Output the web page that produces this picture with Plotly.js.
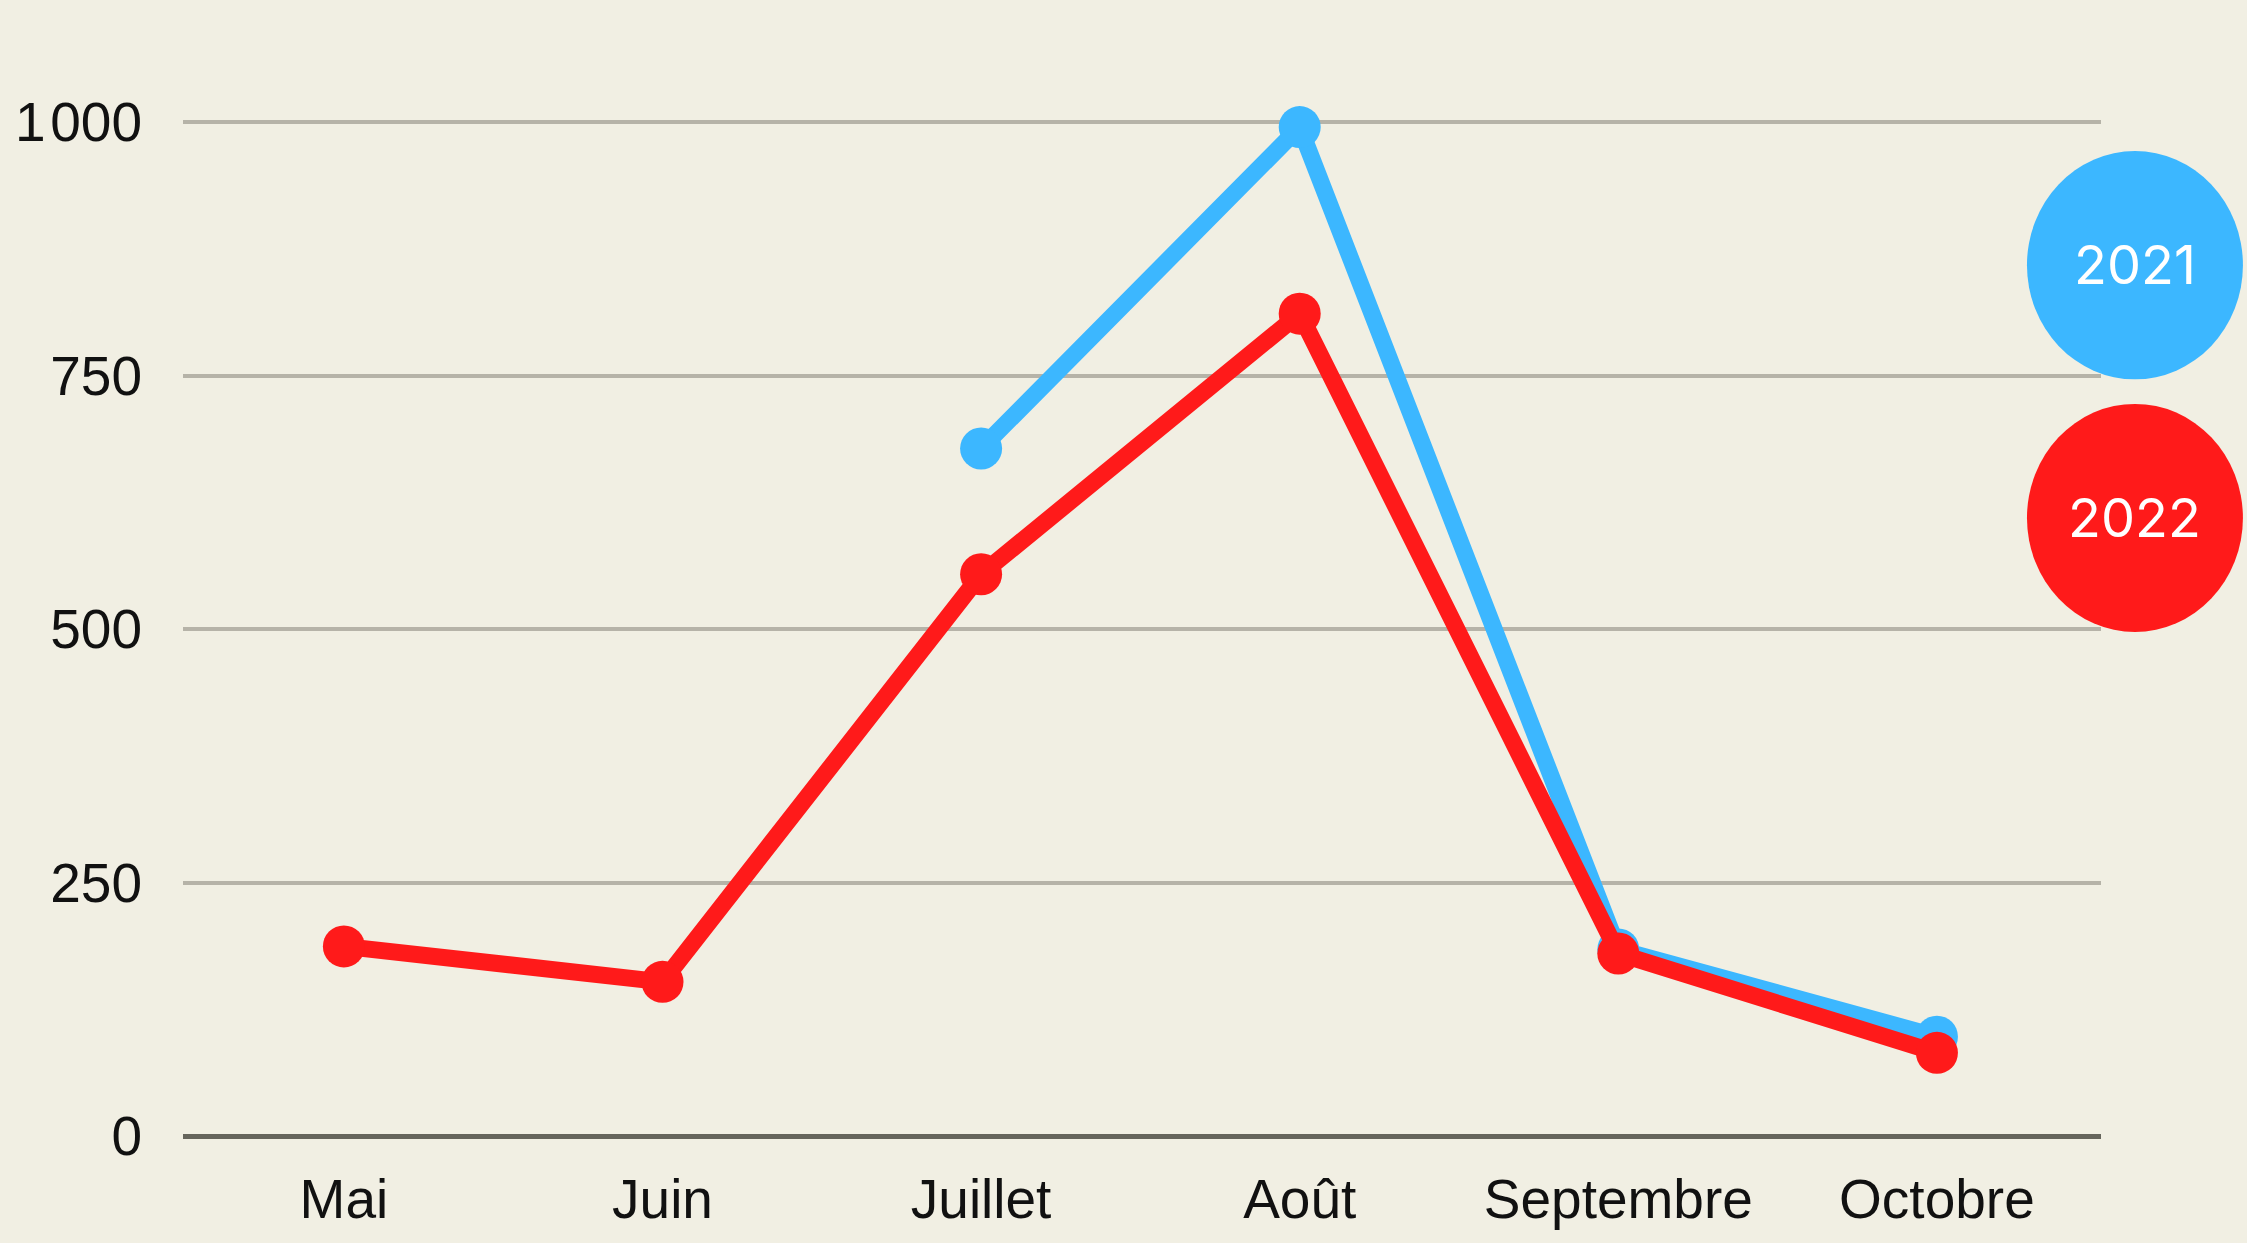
<!DOCTYPE html>
<html>
<head>
<meta charset="utf-8">
<script src="https://cdn.plot.ly/plotly-3.0.1.min.js"></script>
<style>
html,body{margin:0;padding:0;background:#F1EFE3;}
#chart{width:2247px;height:1243px;}
</style>
</head>
<body>
<div id="chart"></div>
<script>
const months = ["Mai", "Juin", "Juillet", "Août", "Septembre", "Octobre"];
const values2021 = [null, null, 678, 995, 184, 98];
const values2022 = [187, 152, 554, 811, 180, 82];
const seriesNames = ["2021", "2022"];
const yTickVals = [0, 250, 500, 750, 1000];
const yTickText = ["0", "250", "500", "750", "1\u200A000"];

const blue = "#3CB7FF";
const red = "#FF1A1A";
const tickFont = {family: "'Liberation Sans', Arial, sans-serif", size: 55, color: "#111111"};

const traces = [
  {
    x: months, y: values2021, name: seriesNames[0], type: "scatter", mode: "lines+markers",
    line: {color: blue, width: 17}, marker: {color: blue, size: 42}, connectgaps: false,
    cliponaxis: false, hoverinfo: "skip"
  },
  {
    x: months, y: values2022, name: seriesNames[1], type: "scatter", mode: "lines+markers",
    line: {color: red, width: 17}, marker: {color: red, size: 42},
    cliponaxis: false, hoverinfo: "skip"
  }
];

const layout = {
  width: 2247, height: 1243,
  paper_bgcolor: "#F1EFE3", plot_bgcolor: "#F1EFE3",
  margin: {l: 183, r: 146, t: 20, b: 107},
  showlegend: false,
  font: tickFont,
  xaxis: {
    type: "category", range: [-0.505, 5.515], showgrid: false, zeroline: false,
    showline: false, ticks: "", ticklabelstandoff: 26, tickfont: tickFont
  },
  yaxis: {
    range: [0, 1100.6], tickvals: yTickVals, ticktext: yTickText,
    showgrid: true, gridcolor: "#B6B3A8", gridwidth: 4,
    zeroline: true, zerolinecolor: "#66655C", zerolinewidth: 5,
    showline: false, ticks: "", ticklabelstandoff: 40, tickfont: tickFont
  },
  shapes: [
    {type: "circle", xref: "paper", yref: "paper", x0: 0.9614, x1: 1.074, y0: 0.678, y1: 0.8826,
     fillcolor: blue, line: {width: 0}, layer: "above"},
    {type: "circle", xref: "paper", yref: "paper", x0: 0.9614, x1: 1.074, y0: 0.4516, y1: 0.656,
     fillcolor: red, line: {width: 0}, layer: "above"}
  ],
  annotations: [
    {text: seriesNames[0], xref: "paper", yref: "paper", x: 1.0177, y: 0.7805, showarrow: false,
     xanchor: "center", yanchor: "middle", font: {family: "Inter, sans-serif", size: 54, color: "#FFFFFF"}},
    {text: seriesNames[1], xref: "paper", yref: "paper", x: 1.0177, y: 0.5538, showarrow: false,
     xanchor: "center", yanchor: "middle", font: {family: "Inter, sans-serif", size: 54, color: "#FFFFFF"}}
  ]
};

Plotly.newPlot("chart", traces, layout, {displayModeBar: false, staticPlot: true});
</script>
</body>
</html>
